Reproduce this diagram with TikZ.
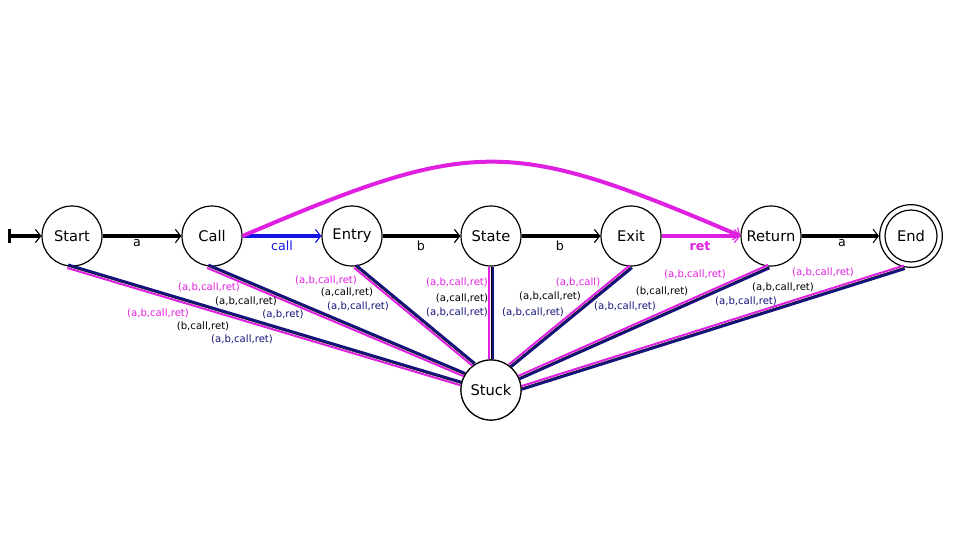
\documentclass[tikz,border=0pt]{standalone}
\usepackage{fontspec}
\setmainfont{DejaVu Sans}
\usetikzlibrary{calc,arrows.meta}
\definecolor{mag}{HTML}{E020E0}
\definecolor{nav}{HTML}{14147C}
\definecolor{blu}{HTML}{1414E6}
\newcommand\stuckedge[2]{%
  \draw[nav, line width=2.1pt] ($(stuck.#1)!1.1pt!-90:(#2)$) -- ($(#2)!1.1pt!90:(stuck.#1)$);
  \draw[mag, line width=1.5pt] ($(stuck.#1)!1.3pt!90:(#2)$) -- ($(#2)!1.3pt!-90:(stuck.#1)$);
  \draw[black, line width=0.3pt] (stuck.#1) -- (#2);
}
\begin{document}
\begin{tikzpicture}[x=0.75pt,y=-0.75pt,
  state/.style={circle, draw, line width=0.9pt, minimum size=45pt, inner sep=0pt, fill=white,
    font=\fontsize{11}{13}\selectfont},
  tip/.tip={Straight Barb[length=4pt,width=10pt,line width=0.8pt]},
  trans/.style={line width=3pt, -tip},
  lab/.style={font=\fontsize{7.6}{9}\selectfont, inner sep=0pt},
  elab/.style={font=\fontsize{9.5}{11}\selectfont, inner sep=0pt}]
\useasboundingbox (0,0) rectangle (960,540);

\node[state] (stuck) at (491,390) {Stuck};
\node[state] (start) at (72,236) {Start};
\node[state] (call) at (212,236) {Call};
\node[state] (entry) at (352,236) {Entry};
\node[state] (st) at (491,236) {State};
\node[state] (exit) at (631,236) {Exit};
\node[state] (return) at (771,236) {Return};
\node[circle, draw, line width=0.9pt, minimum size=47pt, inner sep=0pt] (endout) at (911,236) {};
\node[state, minimum size=39pt] (end) at (911,236) {End};

% edges into the Stuck state
\stuckedge{168}{start.262}
\stuckedge{150}{call.262}
\stuckedge{124}{entry.276}
\stuckedge{90}{st.270}
\stuckedge{52}{exit.270}
\stuckedge{24}{return.266}
\stuckedge{4}{endout.258}

\node[state] at (stuck) {Stuck};

% main transitions
\coordinate (init) at (8,236);
\draw[trans, {Bar[width=11pt,line width=2.5pt]}-tip] (init) -- (start);
\draw[trans] (start) -- (call);
\draw[trans, blu] (call) -- (entry);
\draw[trans] (entry) -- (st);
\draw[trans] (st) -- (exit);
\draw[trans, mag] (exit) -- (return);
\draw[trans] (return) -- (endout);
\draw[trans, mag] (call.east) .. controls (474,137) and (509,137) .. (return.west);

% edge labels
\node[elab] at (137,243) {a};
\node[elab, text=blu] at (282,246) {call};
\node[elab] at (421,246) {b};
\node[elab] at (560,246) {b};
\node[elab, text=mag, font=\fontsize{9.5}{11}\selectfont\bfseries] at (700,246) {ret};
\node[elab] at (842,243) {a};

% stuck labels
\node[lab, text=mag] at (158,313) {(a,b,call,ret)};
\node[lab] at (203,326) {(b,call,ret)};
\node[lab, text=nav] at (242,339) {(a,b,call,ret)};

\node[lab, text=mag] at (209,287) {(a,b,call,ret)};
\node[lab] at (246,301) {(a,b,call,ret)};
\node[lab, text=nav] at (283,314) {(a,b,ret)};

\node[lab, text=mag] at (326,280) {(a,b,call,ret)};
\node[lab] at (347,292) {(a,call,ret)};
\node[lab, text=nav] at (358,306) {(a,b,call,ret)};

\node[lab, text=mag] at (457,282) {(a,b,call,ret)};
\node[lab] at (462,298) {(a,call,ret)};
\node[lab, text=nav] at (457,312) {(a,b,call,ret)};

\node[lab, text=mag] at (578,282) {(a,b,call)};
\node[lab] at (550,296) {(a,b,call,ret)};
\node[lab, text=nav] at (533,312) {(a,b,call,ret)};

\node[lab, text=mag] at (695,274) {(a,b,call,ret)};
\node[lab] at (662,291) {(b,call,ret)};
\node[lab, text=nav] at (625,306) {(a,b,call,ret)};

\node[lab, text=mag] at (823,272) {(a,b,call,ret)};
\node[lab] at (783,287) {(a,b,call,ret)};
\node[lab, text=nav] at (746,301) {(a,b,call,ret)};
\end{tikzpicture}
\end{document}
